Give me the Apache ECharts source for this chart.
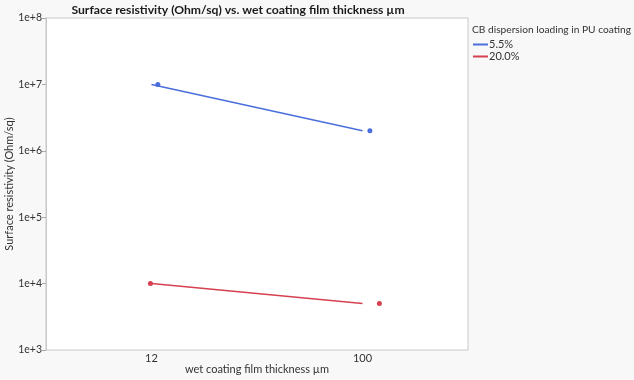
<!DOCTYPE html>
<html><head><meta charset="utf-8">
<script src="https://cdn.jsdelivr.net/npm/echarts@6/dist/echarts.min.js"></script>
<style>html,body{margin:0;padding:0;background:#f8f8f8;}#c{width:634px;height:380px;}</style>
</head><body><div id="c"></div>
<script>
const categories = ['12', '100'];
const seriesNames = ['5.5%', '20.0%'];
const lineBlue = [1e7, 2e6];
const lineRed = [1e4, 5e3];
// individual observations (jittered horizontally within category, in category units)
const pointsBlueX = [0.03, 1.035];
const pointsBlue = [1e7, 2e6];
const pointsRedX = [-0.005, 1.08];
const pointsRed = [1e4, 5e3];
const yTicks = ['1e+3','1e+4','1e+5','1e+6','1e+7','1e+8'];
const colors = ['#4a6fdc', '#d5414f'];
const font = 'Lato';

const chart = echarts.init(document.getElementById('c'));
chart.setOption({
  backgroundColor: '#f8f8f8',
  animation: false,
  textStyle: {fontFamily: font},
  title: [
    {text: 'Surface resistivity (Ohm/sq) vs. wet coating film thickness µm', left: 233, textAlign: 'center', top: -1,
     textStyle: {fontFamily: font, fontWeight: 'bold', fontSize: 12.2, color: '#1a1a1a'}},
    {text: 'CB dispersion loading in PU coating', left: 467, top: 20,
     textStyle: {fontFamily: font, fontWeight: 'normal', fontSize: 10.2, color: '#333'}}
  ],
  legend: {
    left: 468, top: 34, orient: 'vertical', itemGap: 1,
    itemWidth: 15, itemHeight: 2, icon: 'rect',
    data: seriesNames,
    textStyle: {fontFamily: font, fontSize: 11, color: '#333', padding: [0,0,0,-4]}
  },
  grid: {left: 46, right: 166, top: 18, bottom: 30, outerBoundsMode: 'none', containLabel: false,
    show: true, backgroundColor: '#fff', borderColor: '#c8c8c8', borderWidth: 1},
  xAxis: [
    {type: 'category', data: categories, boundaryGap: true,
     name: 'wet coating film thickness µm', nameLocation: 'middle', nameGap: 14, nameMoveOverlap: false,
     nameTextStyle: {fontFamily: font, fontSize: 11, color: '#333'},
     axisLine: {show: false}, axisTick: {show: false},
     axisLabel: {fontFamily: font, fontSize: 11, color: '#333', margin: 3}},
    {type: 'value', min: -0.5, max: 1.5, show: false}
  ],
  yAxis: {
    type: 'log', min: 1e3, max: 1e8, logBase: 10,
    name: 'Surface resistivity (Ohm/sq)', nameLocation: 'middle', nameGap: 31, nameMoveOverlap: false,
    nameTextStyle: {fontFamily: font, fontSize: 11, color: '#333'},
    axisLine: {show: true, onZero: false, lineStyle: {color: '#c8c8c8'}},
    axisTick: {show: true, length: 4, lineStyle: {color: '#aaa'}},
    splitLine: {show: false},
    axisLabel: {fontFamily: font, fontSize: 10.5, color: '#333', margin: 4,
      formatter: v => yTicks[Math.round(Math.log10(v)) - 3]}
  },
  series: [
    {name: seriesNames[0], type: 'line', data: lineBlue, showSymbol: false, symbol: 'none',
     lineStyle: {color: colors[0], width: 1.5}, itemStyle: {color: colors[0]}},
    {name: seriesNames[1], type: 'line', data: lineRed, showSymbol: false, symbol: 'none',
     lineStyle: {color: colors[1], width: 1.5}, itemStyle: {color: colors[1]}},
    {name: seriesNames[0], type: 'scatter', xAxisIndex: 1, symbolSize: 5,
     data: pointsBlueX.map((x, i) => [x, pointsBlue[i]]), itemStyle: {color: colors[0], opacity: 1}},
    {name: seriesNames[1], type: 'scatter', xAxisIndex: 1, symbolSize: 5,
     data: pointsRedX.map((x, i) => [x, pointsRed[i]]), itemStyle: {color: colors[1], opacity: 1}}
  ]
});
</script></body></html>
